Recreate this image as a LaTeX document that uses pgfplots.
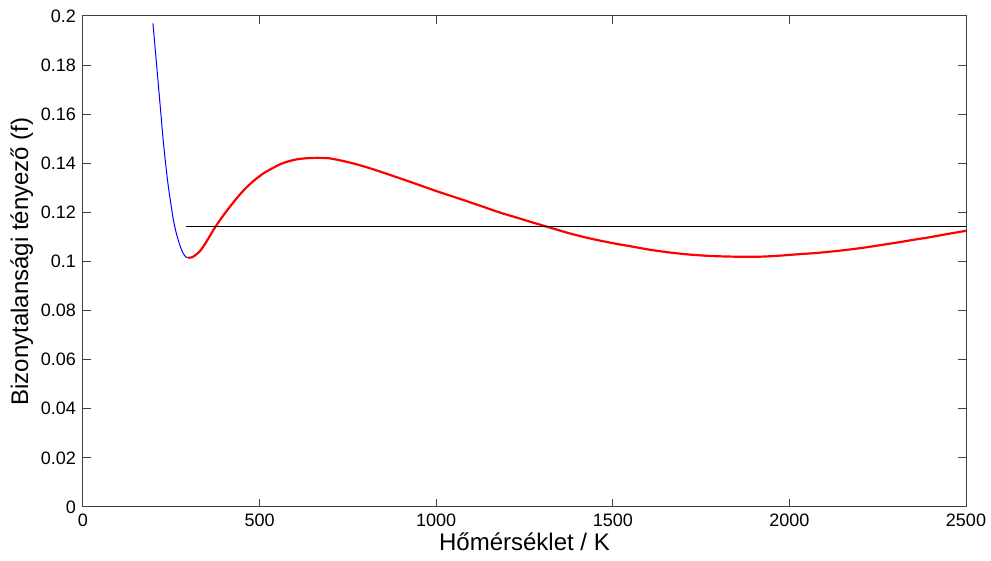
\documentclass[border=0pt]{standalone}
\usepackage{pgfplots}
\pgfplotsset{compat=1.18}
\usepackage{fontspec}
\setmainfont{Liberation Sans}
\begin{document}
\begin{tikzpicture}
\begin{axis}[
  name=ax,
  scale only axis,
  width=441.5pt, height=245.5pt,
  xmin=0, xmax=2500, ymin=0, ymax=0.2,
  xtick={0,500,1000,1500,2000,2500},
  ytick={0,0.02,0.04,0.06,0.08,0.1,0.12,0.14,0.16,0.18,0.2},
  tick align=inside,
  tick pos=both,
  major tick length=4pt,
  axis line style={line width=0.5pt, black!75},
  tick style={black!75, line width=0.5pt},
  /pgf/number format/assume math mode=true,
  xticklabel style={/pgf/number format/1000 sep={}, font=\fontsize{9}{11}\selectfont},
  yticklabel style={/pgf/number format/fixed, /pgf/number format/precision=2, font=\fontsize{9}{11}\selectfont},
  scaled y ticks=false,
  xlabel={Hőmérséklet / K},
  ylabel={Bizonytalansági tényező (f)},
  label style={font=\fontsize{12}{14}\selectfont},
  xlabel style={yshift=4pt},
  ylabel style={yshift=-3pt},
]
\addplot[blue, line width=0.5pt, smooth, tension=0.5] coordinates {
(198,0.197) (206,0.184) (213,0.1726) (220,0.161) (227,0.1495) (234,0.1398)
(241.6,0.1305) (249,0.1233) (256,0.1169) (263,0.1122) (270,0.1085) (277,0.1055)
(284,0.1032) (290,0.1020) (298,0.1015)
};
\addplot[red, line width=1.1pt, smooth, tension=0.5] coordinates {
(298,0.1015) (310,0.1018) (331,0.1042) (350,0.1082) (369,0.1128) (392,0.1177)
(416,0.1223) (440,0.1266) (463,0.1302) (487,0.1333) (510,0.1358) (535,0.1379)
(558,0.1396) (582,0.1408) (605,0.1416) (628,0.1420) (652,0.1422) (675,0.1422) (699,0.1420)
(750,0.1405) (803,0.1384) (850,0.1362) (897,0.1339) (945,0.1315) (992,0.1291)
(1040,0.1268) (1086,0.1246) (1135,0.1222) (1181,0.1199) (1230,0.1178) (1275,0.1158)
(1313,0.1142) (1369,0.1118) (1420,0.1099) (1464,0.1085) (1510,0.1072) (1558,0.1060)
(1600,0.1049) (1643,0.1040) (1690,0.1032) (1737,0.1026) (1785,0.1022) (1832,0.1020)
(1880,0.1019) (1926,0.1020) (1975,0.1024) (2020,0.1029) (2070,0.1034) (2115,0.1040)
(2160,0.1047) (2209,0.1056) (2255,0.1066) (2304,0.1077) (2350,0.1088) (2398,0.1099)
(2440,0.1110) (2500,0.1125)
};
\addplot[black, line width=0.5pt] coordinates {(291,0.1143) (2500,0.1143)};
\coordinate (bl) at (rel axis cs:0,0);
\coordinate (tr) at (rel axis cs:1,1);
\end{axis}
\pgfresetboundingbox
\path[use as bounding box] ([xshift=-41.5pt,yshift=-27pt]bl) rectangle ([xshift=12.5pt,yshift=8pt]tr);
\end{tikzpicture}
\end{document}
